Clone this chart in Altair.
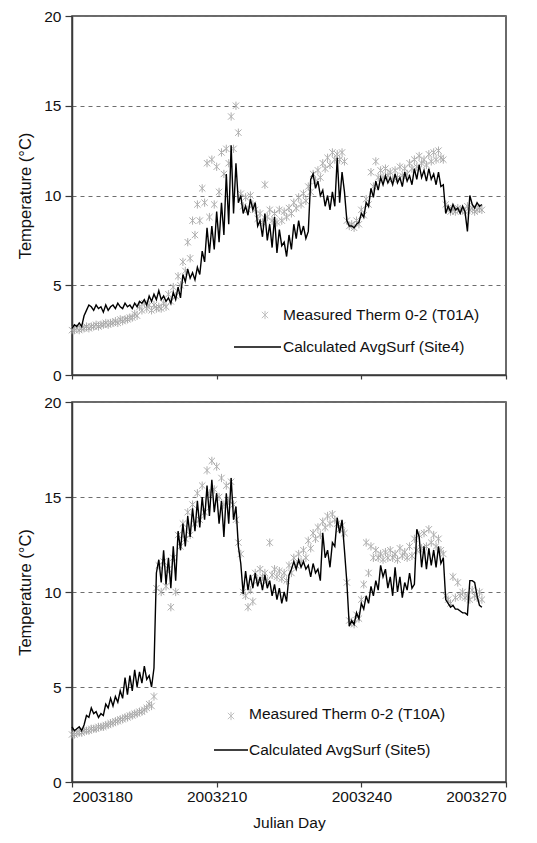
import altair as alt
import pandas as pd

# ---- data (one value every half day from day 2003180) ----
START_DAY = 2003180
STEP = 0.5

site4_calc = [2.6,2.8, 2.7,2.9, 2.7,3.3, 3.6,3.9, 3.8,3.6, 3.9,3.7, 3.8,3.5, 3.9,3.6, 3.8,3.9, 3.7,4.0,
              3.8,3.7, 4.0,3.8, 3.9,3.7, 4.0,3.8, 4.1,4.0, 4.2,3.9, 4.4,4.1, 4.5,4.2, 4.7,4.2, 4.4,4.1,
              4.3,4.0, 4.6,4.2, 4.9,4.3, 5.6,5.2, 5.9,5.4, 5.7,5.3, 6.0,5.6, 6.9,6.3, 8.2,6.8, 8.3,7.0,
              9.1,7.4, 9.6,7.8, 11.2,8.4, 12.8,9.0, 11.8,9.6, 10.0,9.0, 9.4,8.9, 9.8,9.2, 9.6,8.3, 8.6,7.7,
              9.0,7.5, 8.4,7.1, 8.8,6.8, 8.1,7.2, 7.4,6.6, 7.8,7.0, 8.4,7.6, 8.6,7.8, 8.3,7.6, 8.0,10.9,
              11.2,10.4, 10.8,10.0, 10.3,9.4, 10.0,9.2, 10.2,9.4, 12.1,9.6, 11.3,10.2, 8.6,8.3, 8.3,8.2, 8.4,8.5,
              9.0,8.8, 9.6,9.4, 10.4,9.9, 10.8,10.3, 11.0,10.6, 11.1,10.7, 11.0,10.6, 11.2,10.7, 11.0,10.5, 11.3,10.8,
              11.1,10.6, 11.5,10.9, 11.7,11.0, 11.4,10.8, 11.5,10.9, 11.2,10.6, 11.3,10.5, 10.6,9.0, 9.4,9.1, 9.5,9.2,
              9.3,9.0, 9.4,9.1, 8.0,10.0, 9.5,9.3, 9.6,9.4, 9.5]

t01a_meas = [2.5,2.5, 2.6,2.5, 2.6,2.6, 2.7,2.6, 2.7,2.7, 2.8,2.7, 2.8,2.8, 2.9,2.8, 2.9,2.9, 3.0,2.9,
             3.1,3.0, 3.1,3.1, 3.2,3.2, 3.4,3.3, 3.8,3.6, 4.0,3.7, 3.9,3.6, 3.9,3.7, 3.8,3.7, 4.0,3.8,
             4.5,4.1, 4.9,4.4, 5.5,5.0, 6.3,5.8, 7.4,6.5, 8.6,7.8, 9.5,8.6, 10.4,9.6, 11.8,8.8, 12.0,9.5,
             11.6,10.2, 12.4,11.2, 12.6,11.8, 14.4,12.6, 15.0,13.5, 10.1,9.4, 9.9,9.2, 10.0,9.5, 9.2,8.7, 9.0,8.5,
             10.6,8.8, 9.2,8.6, 9.0,8.5, 9.2,8.6, 9.1,8.8, 9.3,9.0, 9.6,9.3, 9.9,9.5, 10.1,9.7, 10.5,10.2,
             11.2,10.8, 11.4,11.0, 11.8,11.5, 12.1,11.7, 12.4,12.0, 12.3,12.0, 12.4,11.9, 8.6,8.3, 8.4,8.2, 8.6,8.4,
             9.2,8.9, 9.8,9.5, 11.3,10.5, 11.9,11.0, 11.4,11.0, 11.5,11.1, 11.3,10.9, 11.4,11.0, 11.6,11.1, 11.5,11.2,
             11.8,11.5, 12.0,11.6, 12.2,11.8, 12.0,11.7, 12.3,11.9, 12.4,12.0, 12.5,12.1, 12.0,9.5, 9.3,9.1, 9.2,9.1,
             9.3,9.2, 9.2,9.1, 9.4,9.2, 9.3,9.1, 9.2,9.3, 9.2]

site5_calc = [2.9,2.7, 2.8,2.9, 2.7,3.0, 3.5,3.4, 3.9,3.6, 3.7,3.4, 3.6,3.5, 4.1,3.9, 4.4,4.0, 4.5,4.2,
              4.8,4.4, 5.5,4.6, 5.6,4.8, 5.9,5.0, 5.8,5.2, 6.1,5.4, 5.6,5.0, 6.0,11.0, 11.7,10.5, 12.2,10.4,
              11.8,10.2, 12.4,10.6, 13.2,12.2, 13.6,12.4, 14.0,12.9, 14.4,13.2, 14.8,13.4, 15.0,13.8, 15.6,14.0, 15.9,14.2,
              15.2,13.6, 14.8,12.9, 15.2,13.6, 16.0,13.8, 14.5,12.4, 11.5,9.9, 11.1,10.1, 10.9,10.2, 11.0,10.3, 10.8,10.1,
              10.9,10.2, 10.6,9.8, 10.4,9.6, 10.2,9.4, 10.0,9.5, 10.9,11.2, 11.6,11.2, 11.7,11.3, 11.6,11.2, 11.4,10.8,
              11.5,11.0, 11.2,10.6, 13.1,11.8, 12.2,11.3, 12.6,12.4, 13.9,13.1, 13.8,12.2, 10.5,8.2, 8.5,8.3, 8.9,8.6,
              9.4,9.1, 9.8,9.4, 10.3,9.8, 10.6,10.1, 11.4,10.8, 11.2,10.2, 10.8,9.8, 11.3,10.0, 10.8,9.7, 10.5,10.1,
              11.0,10.2, 10.4,13.3, 12.9,11.3, 12.4,11.2, 12.3,11.4, 12.2,11.3, 12.4,11.5, 11.8,9.6, 9.4,9.2, 9.3,9.1,
              9.1,9.0, 8.9,8.9, 8.8,10.6, 10.6,10.5, 9.8,9.3, 9.2]

t10a_meas = [2.5,2.5, 2.6,2.6, 2.6,2.7, 2.7,2.7, 2.8,2.8, 2.8,2.9, 2.9,2.9, 3.0,3.0, 3.1,3.1, 3.2,3.2,
             3.3,3.3, 3.4,3.4, 3.5,3.5, 3.6,3.6, 3.7,3.7, 3.8,3.9, 4.1,4.0, 4.5,10.2, 11.4,10.0, 11.6,10.3,
             11.2,9.2, 11.8,10.0, 13.0,12.4, 13.6,12.8, 14.2,13.0, 14.6,13.6, 15.2,13.8, 15.6,14.2, 16.4,15.2, 16.9,15.4,
             16.6,15.0, 16.0,14.6, 15.6,14.8, 15.8,14.6, 13.8,12.6, 12.0,10.0, 9.8,9.2, 10.1,9.5, 11.0,10.6, 11.2,10.8,
             11.0,10.6, 12.6,10.9, 11.2,10.8, 11.1,10.7, 11.0,10.6, 11.4,11.0, 11.8,11.4, 12.0,11.6, 12.2,11.8, 12.7,12.3,
             13.1,12.8, 13.4,13.0, 13.7,13.4, 14.0,13.6, 14.1,13.8, 13.6,13.3, 13.5,13.1, 10.5,8.5, 8.4,8.3, 8.8,8.6,
             9.6,10.4, 12.6,11.0, 12.4,11.8, 12.2,11.8, 12.0,11.7, 12.1,11.8, 12.2,11.8, 12.0,11.7, 12.3,11.9, 12.1,11.8,
             12.4,11.9, 12.8,12.2, 13.0,12.3, 13.1,12.4, 13.3,12.6, 13.0,12.4, 12.8,12.2, 12.0,9.8, 9.6,9.4, 10.8,9.7,
             10.5,9.8, 10.0,9.7, 9.8,9.6, 10.1,9.8, 9.7,10.0, 9.6]

x_ticks = [2003180, 2003210, 2003240, 2003270]
y_ticks = [0, 5, 10, 15, 20]

FONT = "Liberation Sans"
STAR = "M-1,-1L1,1M-1,1L1,-1M0,-1.3L0,1.3"
MEAS_COLOR = "#a6a6a6"


def frame(vals):
    return pd.DataFrame({"day": [START_DAY + i * STEP for i in range(len(vals))],
                         "temp": vals})


def panel(calc, meas, meas_label, calc_label, bottom, height, leg):
    xs = alt.Scale(domain=[x_ticks[0], x_ticks[-1]], nice=False, zero=False)
    ys = alt.Scale(domain=[0, 20], nice=False)
    if bottom:
        xaxis = alt.Axis(values=x_ticks, format="d", title="Julian Day", grid=False,
                         tickSize=5, labelPadding=2, titlePadding=11)
    else:
        xaxis = alt.Axis(values=x_ticks, format="d", title=None, labels=False, grid=False,
                         tickSize=4)
    yaxis = alt.Axis(values=y_ticks, title="Temperature (°C)", grid=True, gridDash=[4, 4],
                     gridColor="#6e6e6e", gridWidth=1, tickSize=7, labelPadding=4,
                     titlePadding=10, titleFontSize=16.5)
    x = alt.X("day:Q", scale=xs, axis=xaxis)
    y = alt.Y("temp:Q", scale=ys, axis=yaxis)

    pts = alt.Chart(frame(meas)).mark_point(
        shape=STAR, size=40, filled=False, stroke=MEAS_COLOR, strokeWidth=1, opacity=0.9
    ).encode(x=x, y=y)
    line = alt.Chart(frame(calc)).mark_line(color="black", strokeWidth=1.4).encode(
        x="day:Q", y="temp:Q")

    sx, sy, tx, ty1, ty2, lx1, lx2 = leg
    leg_star = alt.Chart(frame([0])).mark_point(
        shape=STAR, size=40, filled=False, stroke=MEAS_COLOR, strokeWidth=1
    ).encode(x=alt.value(sx), y=alt.value(sy))
    leg_rule = alt.Chart(frame([0])).mark_rule(color="black", strokeWidth=1.4).encode(
        x=alt.value(lx1), x2=alt.value(lx2), y=alt.value(ty2))
    leg_t1 = alt.Chart(frame([0])).mark_text(
        text=meas_label, align="left", baseline="middle", font=FONT, fontSize=15.5, color="#111"
    ).encode(x=alt.value(tx), y=alt.value(ty1))
    leg_t2 = alt.Chart(frame([0])).mark_text(
        text=calc_label, align="left", baseline="middle", font=FONT, fontSize=15.5, color="#111"
    ).encode(x=alt.value(tx), y=alt.value(ty2))

    return alt.layer(pts, line, leg_star, leg_rule, leg_t1, leg_t2).properties(
        width=434, height=height)


top = panel(site4_calc, t01a_meas, "Measured Therm 0-2 (T01A)", "Calculated AvgSurf (Site4)",
            False, 359, (193, 299, 211, 299, 331, 162, 209))
bottom = panel(site5_calc, t10a_meas, "Measured Therm 0-2 (T10A)", "Calculated AvgSurf (Site5)",
               True, 380, (159, 314, 177, 312, 348, 142, 176))

chart = alt.vconcat(top, bottom, spacing=9).properties(
    padding={"left": 9, "top": 0, "right": 0, "bottom": 0}
).configure_view(
    stroke="#3a3a3a", strokeWidth=1.5
).configure_axis(
    labelFont=FONT, titleFont=FONT, labelFontSize=15.5, titleFontSize=15.5,
    labelColor="#111", titleColor="#111", titleFontWeight="normal",
    domainColor="#3a3a3a", domainWidth=1.5, tickColor="#3a3a3a", tickWidth=1.2
)

chart.save("out.html", embed_options={"renderer": "svg", "actions": False})
